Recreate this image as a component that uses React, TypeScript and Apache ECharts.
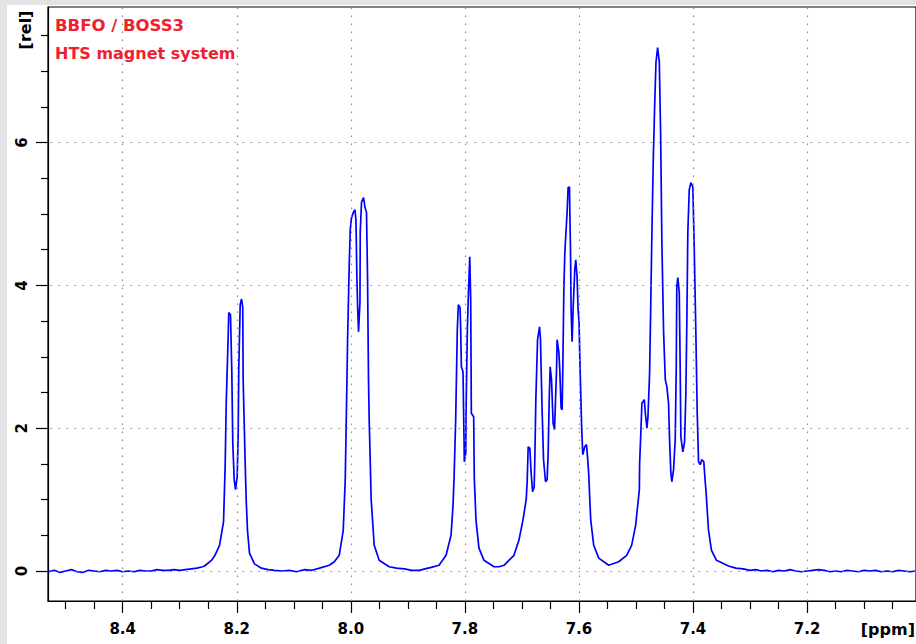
import React, { useEffect, useRef } from "react";
import * as echarts from "echarts";

// x range (ppm, reversed axis) and y range (rel)
const X_MIN = 7.009;
const X_MAX = 8.531;
const Y_MIN = -0.42;
const Y_MAX = 7.9;

const xMajor = [8.4, 8.2, 8.0, 7.8, 7.6, 7.4, 7.2];
const xMinor = [8.5, 8.45, 8.35, 8.3, 8.25, 8.15, 8.1, 8.05, 7.95, 7.9, 7.85, 7.75, 7.7, 7.65, 7.55, 7.5, 7.45, 7.35, 7.3, 7.25, 7.15, 7.1, 7.05];
const yMajor = [0, 2, 4, 6];
const yMinor = [0.5, 1, 1.5, 2.5, 3, 3.5, 4.5, 5, 5.5, 6.5, 7, 7.5];

const titleLines = ["BBFO / BOSS3", "HTS magnet system"];
const xUnit = "[ppm]";
const yUnit = "[rel]";

// spectrum segments: [ppm, intensity]
const baselineLeft: [number, number][] = [
  [8.531, -0.01], [8.52, 0.01], [8.51, -0.02], [8.5, 0.0], [8.49, 0.02], [8.48, -0.01], [8.47, -0.02], [8.46, 0.01],
  [8.45, 0.0], [8.44, -0.01], [8.43, 0.01], [8.42, 0.0], [8.41, 0.01], [8.4, -0.01], [8.39, 0.0], [8.38, -0.01],
  [8.37, 0.01], [8.36, 0.0], [8.35, 0.0], [8.34, 0.02], [8.33, 0.01], [8.32, 0.01], [8.31, 0.02], [8.3, 0.01],
  [8.29, 0.02], [8.28, 0.03], [8.27, 0.04], [8.26, 0.06],
];
const peak820: [number, number][] = [
  [8.2565, 0.07], [8.2443, 0.15], [8.239, 0.21], [8.2302, 0.36], [8.2232, 0.69], [8.2203, 1.49], [8.2185, 2.35],
  [8.215, 3.31], [8.214, 3.62], [8.211, 3.59], [8.2087, 2.79], [8.207, 1.79], [8.2045, 1.28], [8.2022, 1.14],
  [8.1993, 1.32], [8.1975, 1.93], [8.1965, 2.82], [8.194, 3.73], [8.1917, 3.81], [8.1895, 3.69], [8.1888, 2.68],
  [8.1853, 1.53], [8.1835, 1.0], [8.1812, 0.57], [8.1777, 0.25], [8.169, 0.1], [8.1567, 0.04], [8.145, 0.02],
  [8.134, 0.01], [8.12, 0.0], [8.108, 0.01], [8.095, -0.01], [8.081, 0.02], [8.068, 0.01], [8.055, 0.04],
];
const peak799: [number, number][] = [
  [8.0378, 0.08], [8.029, 0.13], [8.0203, 0.22], [8.0133, 0.57], [8.0098, 1.28], [8.0068, 2.68], [8.0057, 3.24],
  [8.0028, 4.29], [8.001, 4.78], [7.9988, 4.95], [7.9952, 5.03], [7.9928, 5.06], [7.991, 4.92], [7.9893, 4.08],
  [7.9882, 3.73], [7.9865, 3.35], [7.984, 3.76], [7.9835, 4.75], [7.9812, 5.17], [7.9777, 5.23], [7.9753, 5.1],
  [7.9725, 5.02], [7.9707, 4.12], [7.969, 2.68], [7.9678, 2.12], [7.9643, 1.0], [7.959, 0.36], [7.9503, 0.15],
  [7.9328, 0.06], [7.92, 0.04], [7.906, 0.03], [7.893, 0.01], [7.88, 0.01], [7.87, 0.03], [7.859, 0.05],
];
const peak780: [number, number][] = [
  [7.8453, 0.08], [7.833, 0.22], [7.8243, 0.5], [7.8208, 0.92], [7.819, 1.3], [7.8161, 2.14], [7.8133, 3.38],
  [7.8115, 3.73], [7.8085, 3.69], [7.8073, 3.38], [7.8062, 2.86], [7.8033, 2.79], [7.8015, 1.84], [7.801, 1.53],
  [7.7985, 1.65], [7.798, 2.21], [7.7957, 3.38], [7.794, 3.84], [7.7915, 4.4], [7.7898, 3.8], [7.7887, 2.21],
  [7.7846, 2.16], [7.7835, 1.3], [7.7805, 0.71], [7.7753, 0.32], [7.7665, 0.15], [7.749, 0.06], [7.74, 0.06],
];
const cluster763: [number, number][] = [
  [7.7315, 0.08], [7.714, 0.22], [7.7053, 0.43], [7.6983, 0.71], [7.6925, 1.0], [7.6908, 1.25], [7.689, 1.74],
  [7.6861, 1.72], [7.6838, 1.37], [7.6813, 1.11], [7.6785, 1.18], [7.6773, 1.6], [7.6756, 2.4], [7.6726, 3.24],
  [7.6691, 3.42], [7.6674, 3.24], [7.6663, 2.82], [7.6645, 2.23], [7.6621, 1.56], [7.6586, 1.25], [7.6558, 1.28],
  [7.654, 1.65], [7.6523, 2.35], [7.6505, 2.86], [7.6481, 2.68], [7.6453, 2.07], [7.6428, 1.98], [7.6411, 2.4],
  [7.6393, 2.82], [7.6383, 3.24], [7.6353, 3.07], [7.6336, 2.82], [7.6313, 2.28], [7.6295, 2.26], [7.6283, 2.82],
  [7.6265, 3.94], [7.6248, 4.46], [7.6208, 5.02], [7.619, 5.37], [7.6166, 5.38], [7.616, 5.03], [7.6148, 4.5],
  [7.6138, 3.66], [7.612, 3.21], [7.6103, 3.66], [7.6073, 4.22], [7.6056, 4.36], [7.6033, 4.12], [7.6015, 3.66],
  [7.5998, 3.48], [7.598, 2.82], [7.5951, 1.98], [7.5933, 1.63], [7.5898, 1.74], [7.5868, 1.77], [7.5846, 1.56],
  [7.5828, 1.35], [7.5811, 1.02], [7.5793, 0.71], [7.5741, 0.36], [7.5653, 0.18], [7.5478, 0.08], [7.5303, 0.13],
];
const cluster743: [number, number][] = [
  [7.5164, 0.22], [7.5076, 0.36], [7.5006, 0.64], [7.4941, 1.14], [7.4936, 1.51], [7.4913, 1.98], [7.4896, 2.35],
  [7.4854, 2.4], [7.4836, 2.21], [7.4808, 2.0], [7.479, 2.16], [7.4761, 2.78], [7.4743, 3.63], [7.472, 4.78],
  [7.4696, 5.79], [7.4673, 6.5], [7.465, 7.12], [7.4621, 7.33], [7.4591, 7.13], [7.4568, 6.14], [7.4546, 4.61],
  [7.4516, 3.35], [7.4486, 2.68], [7.4458, 2.58], [7.4429, 2.35], [7.4411, 1.84], [7.4388, 1.37], [7.4371, 1.25],
  [7.4341, 1.42], [7.4312, 1.84], [7.4294, 2.85], [7.4284, 3.98], [7.4266, 4.11], [7.4241, 3.9], [7.4224, 2.78],
  [7.4213, 1.88], [7.4178, 1.67], [7.4148, 1.81], [7.4126, 2.47], [7.4108, 3.49], [7.4091, 4.74], [7.4066, 5.34],
  [7.4038, 5.44], [7.4003, 5.38], [7.3979, 4.54], [7.3951, 3.38], [7.3926, 2.21], [7.3903, 1.53], [7.3874, 1.49],
  [7.3846, 1.56], [7.3811, 1.53], [7.3786, 1.25], [7.3769, 1.09], [7.3763, 1.0], [7.3728, 0.57], [7.3676, 0.29],
  [7.3588, 0.15], [7.3378, 0.07], [7.325, 0.04], [7.312, 0.03],
];
const baselineRight: [number, number][] = [
  [7.3, 0.01], [7.29, 0.02], [7.28, 0.0], [7.27, 0.01], [7.26, -0.01], [7.25, 0.01], [7.24, 0.0], [7.23, 0.02],
  [7.22, 0.0], [7.21, -0.01], [7.2, 0.0], [7.19, 0.01], [7.18, 0.02], [7.17, 0.01], [7.16, -0.01], [7.15, 0.0],
  [7.14, -0.01], [7.13, 0.01], [7.12, 0.0], [7.11, -0.01], [7.1, 0.01], [7.09, 0.0], [7.08, 0.01], [7.07, -0.01],
  [7.06, 0.0], [7.05, -0.01], [7.04, 0.01], [7.03, 0.0], [7.02, -0.01], [7.009, 0.0],
];

const spectrum = [
  ...baselineLeft, ...peak820, ...peak799, ...peak780, ...cluster763, ...cluster743, ...baselineRight,
];

const FONT = "'DejaVu Sans', sans-serif";

export default function App() {
  const ref = useRef<HTMLDivElement>(null);

  useEffect(() => {
    if (!ref.current) return;
    const chart = echarts.init(ref.current, undefined, { renderer: "svg" });
    const axisColor = "#000";
    const option: any = {
      animation: false,
      backgroundColor: "#ffffff",
      grid: {
        left: 48, top: 7, right: -2, bottom: 43,
        show: true, borderColor: axisColor, borderWidth: 1.2, backgroundColor: "transparent",
      },
      xAxis: [
        {
          type: "value", inverse: true, min: X_MIN, max: X_MAX, position: "bottom",
          axisLine: { show: true, onZero: false, lineStyle: { color: axisColor, width: 1.2 } },
          axisTick: { show: true, length: 12, customValues: xMajor, lineStyle: { color: axisColor, width: 1.2 } },
          axisLabel: {
            customValues: xMajor, formatter: (v: number) => v.toFixed(1),
            color: "#000", fontWeight: "bold", fontSize: 15, fontFamily: FONT, margin: 20,
          },
          splitLine: { show: false },
        },
        {
          type: "value", inverse: true, min: X_MIN, max: X_MAX, position: "bottom",
          axisLine: { show: false, onZero: false },
          axisTick: { show: true, length: 8, customValues: xMinor, lineStyle: { color: axisColor, width: 1.2 } },
          axisLabel: { show: false },
          splitLine: { show: false },
        },
      ],
      yAxis: [
        {
          type: "value", min: Y_MIN, max: Y_MAX, position: "left",
          axisLine: { show: true, onZero: false, lineStyle: { color: axisColor, width: 1.2 } },
          axisTick: { show: true, length: 12, customValues: yMajor, lineStyle: { color: axisColor, width: 1.2 } },
          axisLabel: {
            customValues: yMajor, rotate: 90, formatter: (v: number) => String(v),
            color: "#000", fontWeight: "bold", fontSize: 15, fontFamily: FONT, margin: 19,
          },
          splitLine: { show: false },
        },
        {
          type: "value", min: Y_MIN, max: Y_MAX, position: "left",
          axisLine: { show: false, onZero: false },
          axisTick: { show: true, length: 7, customValues: yMinor, lineStyle: { color: axisColor, width: 1.2 } },
          axisLabel: { show: false },
          splitLine: { show: false },
        },
      ],
      series: [
        {
          type: "line",
          xAxisIndex: 0,
          yAxisIndex: 0,
          data: spectrum,
          showSymbol: false,
          symbol: "none",
          lineStyle: { color: "#0000ff", width: 1.7 },
          markLine: {
            silent: true,
            symbol: ["none", "none"],
            label: { show: false },
            lineStyle: { color: "#8a8a8a", width: 1.2, type: [1.5, 6.5] },
            data: [
              ...xMajor.map((v) => ({ xAxis: v })),
              ...yMajor.map((v) => ({ yAxis: v })),
            ],
          },
        },
      ],
      graphic: [
        { type: "rect", shape: { x: 0, y: 0, width: 916, height: 5 }, style: { fill: "#e3e3e3" }, silent: true },
        { type: "rect", shape: { x: 0, y: 0, width: 7, height: 644 }, style: { fill: "#e3e3e3" }, silent: true },
        {
          type: "text", x: 55, y: 17,
          style: { text: titleLines[0], fill: "#f02030", font: `bold 16.5px ${FONT}`, align: "left", verticalAlign: "top" },
        },
        {
          type: "text", x: 55, y: 45,
          style: { text: titleLines[1], fill: "#f02030", font: `bold 16px ${FONT}`, align: "left", verticalAlign: "top" },
        },
        {
          type: "text", x: 25, y: 30, rotation: Math.PI / 2,
          style: { text: yUnit, fill: "#000", font: `bold 16px ${FONT}`, align: "center", verticalAlign: "middle" },
        },
        {
          type: "text", x: 915, y: 621,
          style: { text: xUnit, fill: "#000", font: `bold 16px ${FONT}`, align: "right", verticalAlign: "top" },
        },
      ],
    };
    chart.setOption(option);
    return () => chart.dispose();
  }, []);

  return (
    <div
      ref={ref}
      style={{ position: "absolute", left: 0, top: 0, width: 916, height: 644 }}
    />
  );
}
